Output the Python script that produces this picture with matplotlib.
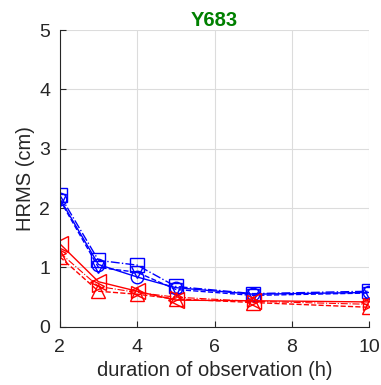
import matplotlib.pyplot as plt

plt.rcParams['font.family'] = ['Liberation Sans', 'DejaVu Sans']

hours = [2, 3, 4, 5, 7, 10]

# blue solutions
blue_sq = [2.22, 1.12, 1.04, 0.68, 0.56, 0.60]
blue_circ = [2.16, 1.05, 0.84, 0.66, 0.55, 0.58]
blue_tri = [2.14, 1.00, 0.92, 0.63, 0.53, 0.57]

# red solutions
red_left = [1.40, 0.76, 0.60, 0.45, 0.44, 0.42]
red_up = [1.18, 0.60, 0.55, 0.47, 0.41, 0.33]
red_right = [1.25, 0.68, 0.58, 0.50, 0.43, 0.38]

fig = plt.figure(figsize=(3.81, 3.85), dpi=100)
ax = fig.add_axes([0.157, 0.151, 0.812, 0.771])

ax.plot(hours, blue_circ, '-', color='blue', marker='o', mfc='none', ms=9, lw=1)
ax.plot(hours, blue_tri, '--', color='blue', marker='v', mfc='none', ms=8, lw=1)
ax.plot(hours, blue_sq, '-.', color='blue', marker='s', mfc='none', ms=10, lw=1)
ax.plot(hours, red_left, '-', color='red', marker='<', mfc='none', ms=12, lw=1)
ax.plot(hours, red_up, '--', color='red', marker='^', mfc='none', ms=10, lw=1)
ax.plot(hours, red_right, '-.', color='red', marker='>', mfc='none', ms=8, lw=0.8)

ax.set_xlim(2, 10)
ax.set_ylim(0, 5)
ax.set_xticks([2, 4, 6, 8, 10])
ax.set_yticks([0, 1, 2, 3, 4, 5])
ax.grid(True, color='#dcdcdc', lw=0.8)
ax.set_axisbelow(True)
for s in ['top', 'right']:
    ax.spines[s].set_visible(False)
for s in ['left', 'bottom']:
    ax.spines[s].set_color('#262626')
ax.tick_params(direction='in', labelsize=14, length=4, colors='#262626')
ax.tick_params(axis='x', pad=9)
ax.tick_params(axis='y', pad=7)
ax.set_xlabel('duration of observation (h)', fontsize=14.5, color='#262626', labelpad=3)
ax.set_ylabel('HRMS (cm)', fontsize=14.5, color='#262626', labelpad=3)
ax.set_title('Y683', color='green', fontweight='bold', fontsize=14.5, pad=3)

fig.savefig('out.png', dpi=100)
